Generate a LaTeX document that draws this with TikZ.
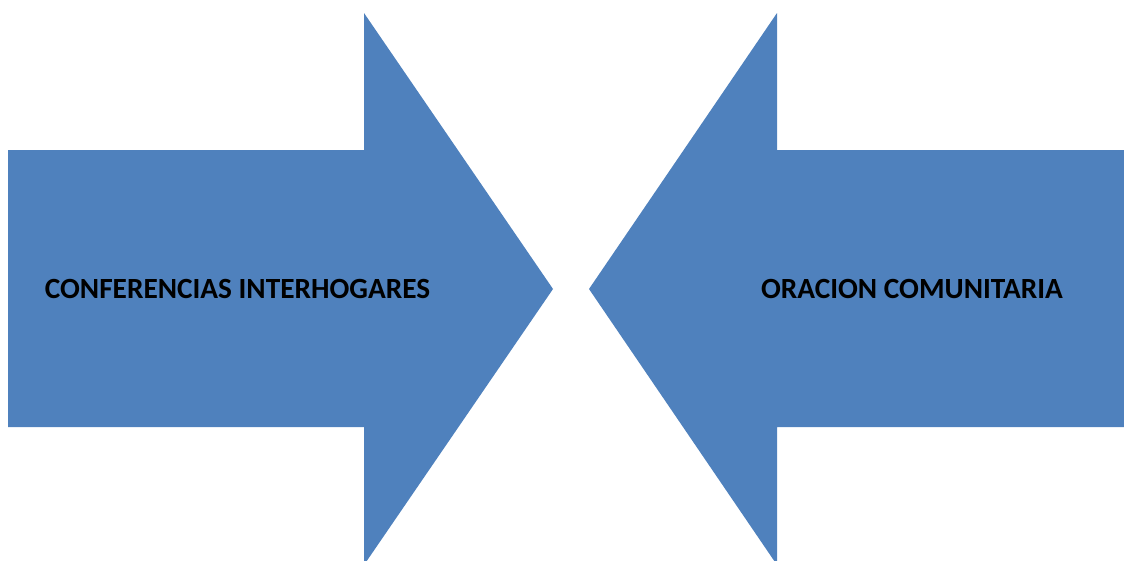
\documentclass[tikz,border=0pt]{standalone}
\usepackage{fontspec}
\setmainfont{Carlito}
\definecolor{arrowblue}{HTML}{4F81BD}
\begin{document}
\begin{tikzpicture}[x=1pt,y=-1pt,
  blockarrow/.style={fill=arrowblue,draw=none},
  lbl/.style={font=\fontsize{29.3}{34}\selectfont\bfseries,text=black,inner sep=0pt,anchor=base}]
\useasboundingbox (0,0) rectangle (1124,560);
\fill[blockarrow] (8,150) -- (364,150) -- (364,13) -- (553,289) -- (364,565) -- (364,427) -- (8,427) -- cycle;
\fill[blockarrow] (1124,150) -- (777,150) -- (777,13) -- (589,289) -- (777,565) -- (777,427) -- (1124,427) -- cycle;
\node[lbl] (left) at (237.5,298) {CONFERENCIAS INTERHOGARES};
\node[lbl] (right) at (912,298) {ORACION COMUNITARIA};
\end{tikzpicture}
\end{document}
